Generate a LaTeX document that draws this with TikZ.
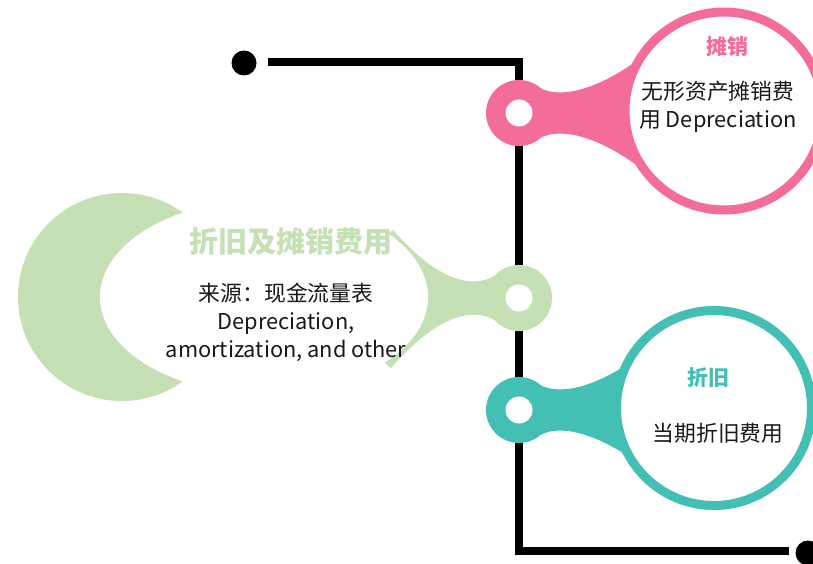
\documentclass[tikz,border=0pt]{standalone}
\usepackage{fontspec}
\setmainfont{Noto Sans CJK SC}
\usetikzlibrary{shapes.geometric}
\definecolor{pinkc}{HTML}{F46C98}
\definecolor{tealc}{HTML}{43BFB3}
\definecolor{greenc}{HTML}{C5E0B4}
\tikzset{
  blackline/.style={line width=7.5pt, black, line join=miter},
  enddot/.style={circle, fill=black, inner sep=0pt, minimum size=25pt},
  ring/.style={circle, fill=#1, inner sep=0pt, minimum size=66pt},
  hole/.style={circle, fill=white, inner sep=0pt, minimum size=27pt},
  bigring/.style={circle, draw=#1, line width=9pt, fill=white, inner sep=0pt, minimum size=198pt},
  title/.style={font=\bfseries\fontsize{21}{26}\selectfont, text=#1},
  body/.style={font=\fontsize{21.8}{28}\selectfont, align=center, text=black!90},
  neck/.pic={\fill[#1] (15,-29) .. controls (36,-11) and (80,-22) .. (128,-60) -- (150,-60) -- (150,60) -- (128,60) .. controls (80,22) and (36,11) .. (15,29) -- cycle;},
  longneck/.pic={\fill[#1] (15,-29) .. controls (35,-10) and (72,-6) .. (126,-68) -- (165,-40) -- (165,40) -- (128,70) .. controls (72,6) and (35,10) .. (15,29) -- cycle;},
}
\begin{document}
\begin{tikzpicture}[x=1pt,y=-1pt]
\useasboundingbox (0,0) rectangle (813,564);
% black connector
\node[enddot] (topdot) at (244,63) {};
\node[enddot] (botdot) at (808,553) {};
\coordinate (ts) at (268,62);
\coordinate (tc) at (519,62);
\coordinate (bc) at (519,551);
\coordinate (be) at (789,551);
\draw[blackline] (ts) -- (tc) -- (bc) -- (be);
% green
\node[circle, fill=greenc, inner sep=0pt, minimum size=208pt] (greenbig) at (122,297) {};
\pic at (519,298) [xscale=-1] {longneck=greenc};
\node[ring=greenc] (greensmall) at (519,298) {};
\node[hole] (greenhole) at (519,298) {};
\node[ellipse, fill=white, inner sep=0pt, minimum width=328pt, minimum height=194pt] (greenell) at (264,297) {};
\node[title=greenc, font=\bfseries\fontsize{29}{34}\selectfont] (greentitle) at (291,242) {折旧及摊销费用};
\node[body] (greenbody) at (286,322) {来源：现金流量表\\Depreciation,\\amortization, and other};
% pink
\pic at (519,113) {neck=pinkc};
\node[bigring=pinkc] (pinkbig) at (724,111) {};
\node[ring=pinkc] (pinksmall) at (519,113) {};
\node[hole] (pinkhole) at (519,113) {};
\node[title=pinkc] (pinktitle) at (727,47) {摊销};
\node[body] (pinkbody) at (718,107) {无形资产摊销费\\用 Depreciation};
% teal
\pic at (519,410) {neck=tealc};
\node[bigring=tealc, minimum size=195pt] (tealbig) at (714,408) {};
\node[ring=tealc] (tealsmall) at (519,410) {};
\node[hole] (tealhole) at (519,410) {};
\node[title=tealc] (tealtitle) at (708,378) {折旧};
\node[body] (tealbody) at (718,433) {当期折旧费用};
\end{tikzpicture}
\end{document}
